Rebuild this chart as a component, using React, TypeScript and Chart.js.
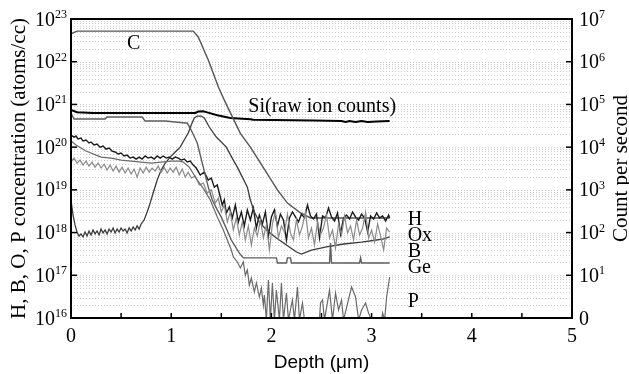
import React, { useEffect, useRef } from "react";
import { Chart, registerables } from "chart.js";

Chart.register(...registerables);

const SERIF = '"Liberation Serif", "Times New Roman", serif';
const SANS = '"Liberation Sans", Arial, sans-serif';

// ---- axes / tick labels ----
const xTickValues = [0, 0.5, 1, 1.5, 2, 2.5, 3, 3.5, 4, 4.5, 5];
const xLabelValues = [0, 1, 2, 3, 4, 5];
const leftDecades = [16, 17, 18, 19, 20, 21, 22, 23];
const rightDecades = [0, 1, 2, 3, 4, 5, 6, 7];
const gridMultipliers = [1, 2, 3, 4, 5, 6, 7, 8, 9];

// ---- C ----
const cDepth = [0, 0.06, 1.22, 1.27, 1.37, 1.47, 1.53, 1.69, 1.79, 1.89, 2.06, 2.16, 2.29, 2.39, 2.6, 3.18];
const cConc = [4.5e22, 5.2e22, 5.2e22, 3.8e22, 1.1e22, 2.6e21, 1.26e21, 2.1e20, 1.0e20, 4.3e19, 1.0e19, 4.9e18, 2.9e18, 2.2e18, 2.2e18, 2.2e18];

// ---- Si (raw ion counts, right axis) ----
const siDepth = [0, 0.06, 0.22, 1.24, 1.27, 1.32, 1.35, 1.46, 1.59, 1.79, 1.82, 2.42, 2.7, 2.74, 2.78, 2.84, 2.9, 2.96, 3.05, 3.18];
const siCounts = [7.4e4, 6.6e4, 6.3e4, 6.3e4, 6.8e4, 6.9e4, 6.6e4, 5.6e4, 4.8e4, 4.5e4, 4.4e4, 4.2e4, 4.1e4, 3.9e4, 4.1e4, 3.9e4, 4.1e4, 3.9e4, 4.0e4, 4.1e4];

// ---- Ge ----
const geDepth = [0, 0.03, 0.34, 0.36, 0.71, 0.74, 0.94, 1.04, 1.14, 1.16, 1.19, 1.26, 1.32, 1.37, 1.41, 1.46, 1.5, 1.56, 1.6, 1.68, 1.72, 2.05, 2.06, 2.15, 2.16, 2.19, 2.2, 2.58, 2.59, 2.6, 2.88, 2.89, 2.9, 3.18];
const geConc = [6.3e20, 4.55e20, 4.55e20, 5.07e20, 5.07e20, 4.08e20, 4.08e20, 3.87e20, 3.67e20, 3.67e20, 2.8e20, 1.25e20, 3.4e19, 1.16e19, 5.8e18, 3.4e18, 2.3e18, 1.1e18, 6.7e17, 3.3e17, 2.55e17, 2.55e17, 1.94e17, 1.94e17, 2.55e17, 2.55e17, 1.94e17, 1.94e17, 5.7e17, 1.94e17, 1.94e17, 2.55e17, 1.94e17, 1.94e17];

// ---- H ----
const hDepth = [0, 0.03, 0.05, 0.07, 0.1, 0.12, 0.15, 0.18, 0.2, 0.23, 0.26, 0.29, 0.32, 0.35, 0.38, 0.41, 0.44, 0.47, 0.5, 0.53, 0.56, 0.59, 0.62, 0.65, 0.68, 0.71, 0.74, 0.77, 0.8, 0.83, 0.86, 0.89, 0.92, 0.95, 0.98, 1.01, 1.04, 1.07, 1.1, 1.13, 1.16, 1.19, 1.22, 1.25, 1.29, 1.33, 1.37, 1.4, 1.43, 1.46, 1.49, 1.51, 1.53, 1.55, 1.58, 1.61, 1.64, 1.67, 1.7, 1.73, 1.76, 1.79, 1.82, 1.85, 1.88, 1.91, 1.94, 1.97, 2.0, 2.03, 2.06, 2.09, 2.12, 2.15, 2.18, 2.21, 2.24, 2.27, 2.3, 2.33, 2.36, 2.39, 2.42, 2.45, 2.48, 2.51, 2.54, 2.57, 2.6, 2.63, 2.66, 2.69, 2.72, 2.75, 2.78, 2.81, 2.84, 2.87, 2.9, 2.93, 2.96, 2.99, 3.02, 3.05, 3.08, 3.11, 3.14, 3.17, 3.18];
const hConc = [1.92e20, 1.72e20, 1.82e20, 1.55e20, 1.63e20, 1.39e20, 1.47e20, 1.25e20, 1.32e20, 1.12e20, 1.18e20, 1.0e20, 1.06e20, 9.0e19, 9.5e19, 8.1e19, 7.7e19, 6.9e19, 7.3e19, 6.2e19, 6.5e19, 5.55e19, 5.85e19, 5.25e19, 5.85e19, 5.25e19, 6.2e19, 5.55e19, 5.85e19, 5.25e19, 6.2e19, 5.55e19, 6.2e19, 5.55e19, 5.85e19, 5.25e19, 5.85e19, 5.55e19, 4.98e19, 5.25e19, 4.47e19, 4.7e19, 3.8e19, 3.24e19, 2.22e19, 2.6e19, 1.7e19, 1.89e19, 1.16e19, 1.3e19, 6.8e18, 4.4e18, 5.8e18, 2.88e18, 3.98e18, 2.2e18, 4.4e18, 1.77e18, 3.04e18, 1.43e18, 3.38e18, 1.97e18, 3.77e18, 1.28e18, 2.58e18, 1.59e18, 3.04e18, 8.3e17, 2.32e18, 3.38e18, 1.43e18, 2.7e18, 1.97e18, 6.7e17, 2.2e18, 3.04e18, 2.32e18, 1.77e18, 2.7e18, 2.2e18, 4.4e18, 2.45e18, 2.08e18, 2.7e18, 7.5e17, 2.45e18, 2.2e18, 3.77e18, 2.32e18, 1.87e18, 2.88e18, 9.3e17, 2.2e18, 2.58e18, 2.08e18, 3.04e18, 2.32e18, 1.97e18, 2.7e18, 2.2e18, 1.03e18, 2.45e18, 2.08e18, 2.88e18, 2.2e18, 2.45e18, 1.87e18, 2.58e18, 2.2e18];

// ---- B ----
const bDepth = [0, 0.02, 0.04, 0.06, 0.08, 0.1, 0.12, 0.14, 0.16, 0.18, 0.2, 0.22, 0.24, 0.26, 0.28, 0.3, 0.32, 0.34, 0.36, 0.38, 0.4, 0.42, 0.44, 0.46, 0.48, 0.5, 0.52, 0.54, 0.56, 0.58, 0.6, 0.62, 0.64, 0.66, 0.68, 0.7, 0.73, 0.76, 0.79, 0.82, 0.86, 0.9, 0.94, 0.99, 1.04, 1.09, 1.13, 1.17, 1.2, 1.23, 1.26, 1.3, 1.33, 1.38, 1.45, 1.55, 1.62, 1.66, 1.71, 1.76, 1.79, 1.83, 1.88, 1.95, 2.05, 2.15, 2.25, 2.3, 2.4, 2.55, 2.72, 2.9, 3.05, 3.12, 3.18];
const bConc = [5.8e18, 2.58e18, 1.51e18, 1.03e18, 8.3e17, 9.3e17, 7.9e17, 1.03e18, 8.3e17, 1.09e18, 8.8e17, 1.15e18, 9.3e17, 1.09e18, 8.8e17, 1.21e18, 9.8e17, 1.15e18, 9.3e17, 1.21e18, 1.03e18, 1.28e18, 9.8e17, 1.21e18, 1.03e18, 1.28e18, 1.09e18, 1.21e18, 9.8e17, 1.28e18, 1.09e18, 1.35e18, 1.15e18, 1.43e18, 1.21e18, 1.59e18, 1.97e18, 3.04e18, 4.9e18, 8.45e18, 1.7e19, 2.9e19, 4.24e19, 5.85e19, 7.7e19, 1.0e20, 1.47e20, 2.14e20, 3.29e20, 4.8e20, 5.35e20, 5.35e20, 4.8e20, 2.96e20, 1.72e20, 1.0e20, 4.98e19, 3.4e19, 1.99e19, 1.16e19, 5.8e18, 3.04e18, 1.77e18, 1.15e18, 7.5e17, 5.1e17, 3.5e17, 3.15e17, 3.9e17, 4.6e17, 5.4e17, 6.0e17, 6.7e17, 7.1e17, 7.9e17];

// ---- P ----
const pDepth = [0, 0.05, 0.1, 0.15, 0.2, 0.25, 0.3, 0.4, 0.5, 0.6, 0.7, 0.8, 0.9, 1.0, 1.08, 1.12, 1.18, 1.26, 1.33, 1.39, 1.46, 1.52, 1.56, 1.6, 1.62, 1.66, 1.69, 1.72, 1.74, 1.76, 1.78, 1.8, 1.83, 1.85, 1.88, 1.9, 1.92, 1.93, 1.95, 1.97, 1.99, 2.01, 2.03, 2.05, 2.08, 2.1, 2.12, 2.15, 2.17, 2.21, 2.23, 2.26, 2.28, 2.31, 2.33, 2.48, 2.49, 2.51, 2.53, 2.58, 2.61, 2.64, 2.67, 2.7, 2.72, 2.8, 2.84, 2.87, 2.9, 2.94, 2.97, 3.0, 3.1, 3.11, 3.13, 3.15, 3.18];
const pConc = [1.39e20, 1.12e20, 9.5e19, 8.1e19, 7.3e19, 6.5e19, 5.85e19, 5.55e19, 4.98e19, 4.7e19, 4.47e19, 4.24e19, 4.47e19, 4.7e19, 4.7e19, 4.47e19, 3.4e19, 1.7e19, 1.0e19, 5.8e18, 2.32e18, 1.15e18, 6.7e17, 3.9e17, 2.7e17, 2.05e17, 1.48e17, 2.05e17, 1.0e17, 1.33e17, 5.9e16, 8.6e16, 4.06e16, 6.6e16, 3.1e16, 5.0e16, 2.0e16, 3.45e16, 9e15, 7.75e16, 9e15, 6.6e16, 9e15, 4.5e16, 9e15, 6.6e16, 9e15, 3.85e16, 9e15, 2.64e16, 9e15, 5.3e16, 9e15, 2.24e16, 9e15, 9e15, 2.24e16, 2.64e16, 9e15, 4.5e16, 9e15, 3.85e16, 1.54e16, 2.64e16, 9e15, 5.3e16, 3.1e16, 9e15, 1.54e16, 2.24e16, 1.3e16, 9e15, 9e15, 1.3e16, 9e15, 3.1e16, 9.1e16];

// ---- Ox ----
const oxDepth = [0, 0.03, 0.06, 0.09, 0.12, 0.15, 0.18, 0.21, 0.24, 0.27, 0.3, 0.33, 0.36, 0.39, 0.42, 0.45, 0.48, 0.51, 0.54, 0.57, 0.6, 0.63, 0.66, 0.69, 0.72, 0.75, 0.78, 0.81, 0.84, 0.87, 0.9, 0.93, 0.96, 0.99, 1.02, 1.05, 1.08, 1.11, 1.14, 1.17, 1.2, 1.24, 1.28, 1.32, 1.36, 1.4, 1.44, 1.47, 1.5, 1.53, 1.56, 1.59, 1.62, 1.65, 1.68, 1.71, 1.74, 1.77, 1.8, 1.83, 1.86, 1.89, 1.92, 1.95, 1.98, 2.01, 2.04, 2.07, 2.1, 2.13, 2.16, 2.19, 2.22, 2.25, 2.28, 2.31, 2.34, 2.37, 2.4, 2.43, 2.46, 2.49, 2.52, 2.55, 2.58, 2.61, 2.64, 2.67, 2.7, 2.73, 2.76, 2.79, 2.82, 2.85, 2.88, 2.91, 2.94, 2.97, 3.0, 3.03, 3.06, 3.09, 3.12, 3.15, 3.18];
const oxConc = [4.47e19, 5.55e19, 4.24e19, 4.98e19, 3.8e19, 4.7e19, 3.6e19, 4.47e19, 3.4e19, 4.24e19, 3.24e19, 4.0e19, 2.9e19, 3.8e19, 2.75e19, 3.6e19, 2.6e19, 3.4e19, 2.47e19, 3.24e19, 2.34e19, 3.07e19, 1.99e19, 3.24e19, 2.47e19, 3.4e19, 2.6e19, 3.24e19, 2.75e19, 3.6e19, 2.6e19, 3.4e19, 2.47e19, 3.24e19, 2.6e19, 3.4e19, 2.22e19, 3.07e19, 1.99e19, 2.6e19, 1.89e19, 2.1e19, 1.3e19, 1.44e19, 8.45e18, 1.0e19, 4.9e18, 6.4e18, 3.04e18, 4.4e18, 1.77e18, 3.04e18, 1.15e18, 2.2e18, 8.8e17, 1.77e18, 6.7e17, 1.43e18, 5.1e17, 1.28e18, 8.3e17, 1.97e18, 7.5e17, 1.51e18, 3.9e17, 1.59e18, 3.04e18, 7.5e17, 1.43e18, 1.03e18, 2.7e18, 9.8e17, 6.7e17, 1.97e18, 8.8e17, 1.43e18, 3.04e18, 7.5e17, 1.28e18, 5.1e17, 1.77e18, 8.8e17, 1.28e18, 2.58e18, 7.5e17, 1.15e18, 4.4e17, 1.59e18, 8.8e17, 2.45e18, 9.8e17, 1.43e18, 6.7e17, 1.97e18, 8.8e17, 1.28e18, 3.04e18, 7.5e17, 1.15e18, 6.0e17, 1.59e18, 8.3e17, 3.9e17, 1.28e18, 1.03e18];

// ---- in-plot text labels (x in um, y in atoms/cc at baseline) ----
const noteTexts = ["C", "Si(raw ion counts)", "H", "Ox", "B", "Ge", "P"];
const noteDepth = [0.56, 1.77, 3.36, 3.36, 3.36, 3.36, 3.36];
const noteConc = [2.0e22, 6.6e20, 1.5e18, 6.3e17, 2.7e17, 1.14e17, 1.8e16];

const toPoints = (xs: number[], ys: number[]) => xs.map((x, i) => ({ x, y: ys[i] }));

const decor = {
  id: "decor",
  beforeDatasetsDraw(chart: any) {
    const { ctx, chartArea: a, scales } = chart;
    const y = scales.y;
    ctx.save();
    ctx.strokeStyle = "#cccccc";
    ctx.lineWidth = 1;
    ctx.setLineDash([1, 2]);
    for (const d of leftDecades) {
      for (const m of gridMultipliers) {
        const v = m * Math.pow(10, d);
        const py = Math.round(y.getPixelForValue(v)) + 0.5;
        if (py <= a.top + 1 || py >= a.bottom - 1) continue;
        ctx.beginPath();
        ctx.moveTo(a.left, py);
        ctx.lineTo(a.right, py);
        ctx.stroke();
      }
    }
    ctx.restore();
  },
  afterDraw(chart: any) {
    const { ctx, chartArea: a, scales } = chart;
    const x = scales.x;
    const y = scales.y;
    const y2 = scales.y2;
    ctx.save();
    ctx.setLineDash([]);
    ctx.strokeStyle = "#000";
    ctx.fillStyle = "#000";
    // tick marks (inward)
    ctx.lineWidth = 1.5;
    for (const t of xTickValues) {
      const px = x.getPixelForValue(t);
      ctx.beginPath();
      ctx.moveTo(px, a.bottom);
      ctx.lineTo(px, a.bottom - 5);
      ctx.stroke();
    }
    for (const d of leftDecades) {
      const py = y.getPixelForValue(Math.pow(10, d));
      ctx.beginPath();
      ctx.moveTo(a.left, py);
      ctx.lineTo(a.left + 6, py);
      ctx.stroke();
    }
    for (const d of rightDecades) {
      const py = y2.getPixelForValue(Math.pow(10, d));
      ctx.beginPath();
      ctx.moveTo(a.right, py);
      ctx.lineTo(a.right - 6, py);
      ctx.stroke();
    }
    // frame
    ctx.lineWidth = 2;
    ctx.strokeRect(a.left, a.top, a.right - a.left, a.bottom - a.top);

    // left tick labels 10^n
    const big = `20px ${SERIF}`;
    const small = `12px ${SERIF}`;
    ctx.textBaseline = "alphabetic";
    for (const d of leftDecades) {
      const py = y.getPixelForValue(Math.pow(10, d));
      ctx.font = small;
      const ew = ctx.measureText(String(d)).width;
      const right = a.left - 4;
      ctx.textAlign = "left";
      ctx.fillText(String(d), right - ew, py - 1);
      ctx.font = big;
      ctx.textAlign = "right";
      ctx.fillText("10", right - ew, py + 6.5);
    }
    // right tick labels
    for (const d of rightDecades) {
      const py = y2.getPixelForValue(Math.pow(10, d));
      const left = a.right + 7;
      ctx.textAlign = "left";
      ctx.font = big;
      if (d === 0) {
        ctx.fillText("0", left, py + 6.5);
        continue;
      }
      ctx.fillText("10", left, py + 6.5);
      const w = ctx.measureText("10").width;
      ctx.font = small;
      ctx.fillText(String(d), left + w, py - 1);
    }
    // x tick labels
    ctx.font = big;
    ctx.textAlign = "center";
    for (const v of xLabelValues) {
      ctx.fillText(String(v), x.getPixelForValue(v), a.bottom + 24);
    }
    // axis titles
    ctx.font = `21px ${SERIF}`;
    ctx.save();
    ctx.translate(25, (a.top + a.bottom) / 2);
    ctx.rotate(-Math.PI / 2);
    ctx.textAlign = "center";
    ctx.fillText("H, B, O, P concentration (atoms/cc)", 0, 0);
    ctx.restore();
    ctx.save();
    ctx.translate(627, (a.top + a.bottom) / 2);
    ctx.rotate(-Math.PI / 2);
    ctx.textAlign = "center";
    ctx.fillText("Count per second", 0, 0);
    ctx.restore();
    ctx.font = `19px ${SANS}`;
    ctx.textAlign = "center";
    ctx.fillText("Depth (\u03bcm)", (a.left + a.right) / 2, 368);

    // in-plot notes
    ctx.font = `20px ${SERIF}`;
    ctx.textAlign = "left";
    noteTexts.forEach((t, i) => {
      ctx.fillText(t, x.getPixelForValue(noteDepth[i]), y.getPixelForValue(noteConc[i]));
    });
    ctx.restore();
  },
};

export default function App() {
  const ref = useRef<HTMLCanvasElement | null>(null);
  useEffect(() => {
    document.body.style.margin = "0";
    const canvas = ref.current;
    if (!canvas) return;
    const line = (label: string, pts: any[], color: string, width: number, axis = "y") => ({
      label,
      data: pts,
      borderColor: color,
      borderWidth: width,
      pointRadius: 0,
      tension: 0,
      fill: false,
      yAxisID: axis,
    });
    const chart = new Chart(canvas, {
      type: "line",
      data: {
        datasets: [
          line("P", toPoints(pDepth, pConc), "#6a6a6a", 1.2),
          line("Ox", toPoints(oxDepth, oxConc), "#8a8a8a", 1.2),
          line("Ge", toPoints(geDepth, geConc), "#5e5e5e", 1.4),
          line("B", toPoints(bDepth, bConc), "#3c3c3c", 1.3),
          line("H", toPoints(hDepth, hConc), "#1c1c1c", 1.4),
          line("C", toPoints(cDepth, cConc), "#555555", 1.4),
          line("Si", toPoints(siDepth, siCounts), "#000000", 2, "y2"),
        ],
      },
      options: {
        animation: false,
        responsive: false,
        devicePixelRatio: 1,
        layout: { padding: { top: 19, left: 0, right: 0, bottom: 0 } },
        plugins: { legend: { display: false }, tooltip: { enabled: false } },
        scales: {
          x: {
            type: "linear",
            min: 0,
            max: 5,
            grid: { display: false },
            border: { display: false },
            ticks: { display: false },
            afterFit: (s: any) => { s.height = 56; },
          },
          y: {
            type: "logarithmic",
            position: "left",
            min: 1e16,
            max: 1e23,
            grid: { display: false },
            border: { display: false },
            ticks: { display: false },
            afterFit: (s: any) => { s.width = 71; },
          },
          y2: {
            type: "logarithmic",
            position: "right",
            min: 1,
            max: 1e7,
            grid: { display: false },
            border: { display: false },
            ticks: { display: false },
            afterFit: (s: any) => { s.width = 57; },
          },
        },
      },
      plugins: [decor],
    } as any);
    return () => chart.destroy();
  }, []);
  return (
    <div style={{ width: 629, height: 374 }}>
      <canvas ref={ref} width={629} height={374} style={{ display: "block" }} />
    </div>
  );
}
